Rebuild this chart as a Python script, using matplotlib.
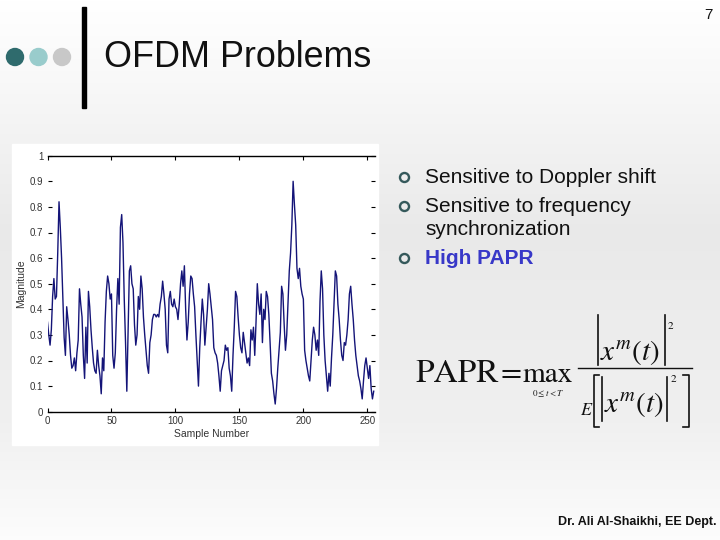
import matplotlib
matplotlib.use('Agg')
import matplotlib.pyplot as plt
import numpy as np
from matplotlib.patches import Circle, Rectangle

plt.rcParams['font.family'] = ['Liberation Sans', 'DejaVu Sans']

# magnitude of 256 OFDM samples
magnitude = [
    0.35, 0.30, 0.26, 0.32, 0.45, 0.52, 0.44, 0.45, 0.62, 0.82,
    0.72, 0.60, 0.45, 0.29, 0.22, 0.41, 0.36, 0.30, 0.22, 0.17,
    0.18, 0.21, 0.16, 0.23, 0.28, 0.48, 0.42, 0.37, 0.22, 0.13,
    0.33, 0.19, 0.47, 0.41, 0.32, 0.25, 0.19, 0.16, 0.15, 0.24,
    0.18, 0.14, 0.07, 0.21, 0.16, 0.35, 0.47, 0.53, 0.50, 0.44,
    0.46, 0.22, 0.17, 0.23, 0.40, 0.52, 0.42, 0.72, 0.77, 0.66,
    0.44, 0.27, 0.08, 0.32, 0.55, 0.57, 0.50, 0.48, 0.34, 0.26,
    0.30, 0.45, 0.40, 0.53, 0.48, 0.37, 0.30, 0.24, 0.18, 0.15,
    0.27, 0.30, 0.36, 0.38, 0.38, 0.37, 0.38, 0.37, 0.42, 0.45,
    0.51, 0.46, 0.40, 0.26, 0.23, 0.44, 0.47, 0.42, 0.41, 0.44,
    0.41, 0.40, 0.36, 0.42, 0.50, 0.55, 0.49, 0.57, 0.40, 0.28,
    0.35, 0.46, 0.53, 0.52, 0.46, 0.41, 0.30, 0.20, 0.10, 0.25,
    0.35, 0.44, 0.38, 0.26, 0.33, 0.40, 0.50, 0.46, 0.41, 0.36,
    0.25, 0.23, 0.22, 0.19, 0.14, 0.08, 0.16, 0.18, 0.20, 0.26,
    0.24, 0.25, 0.17, 0.14, 0.08, 0.22, 0.33, 0.47, 0.45, 0.37,
    0.30, 0.25, 0.23, 0.31, 0.27, 0.23, 0.19, 0.21, 0.18, 0.32,
    0.28, 0.33, 0.22, 0.35, 0.50, 0.42, 0.38, 0.46, 0.27, 0.40,
    0.36, 0.47, 0.45, 0.38, 0.27, 0.15, 0.12, 0.07, 0.03, 0.09,
    0.17, 0.24, 0.31, 0.49, 0.46, 0.34, 0.24, 0.30, 0.42, 0.55,
    0.62, 0.73, 0.90, 0.81, 0.73, 0.56, 0.52, 0.56, 0.49, 0.46,
    0.44, 0.24, 0.20, 0.17, 0.14, 0.12, 0.20, 0.28, 0.33, 0.30,
    0.24, 0.28, 0.22, 0.43, 0.55, 0.48, 0.30, 0.20, 0.14, 0.08,
    0.15, 0.10, 0.21, 0.30, 0.43, 0.55, 0.53, 0.42, 0.36, 0.28,
    0.22, 0.20, 0.27, 0.26, 0.30, 0.36, 0.46, 0.49, 0.42, 0.36,
    0.28, 0.22, 0.18, 0.14, 0.12, 0.09, 0.05, 0.12, 0.18, 0.21,
    0.17, 0.13, 0.18, 0.09, 0.05, 0.08,
]
samples = np.arange(len(magnitude))
x_ticks = [0, 50, 100, 150, 200, 250]
y_ticks = [0, 0.1, 0.2, 0.3, 0.4, 0.5, 0.6, 0.7, 0.8, 0.9, 1]
y_tick_labels = ['0', '0.1', '0.2', '0.3', '0.4', '0.5', '0.6', '0.7', '0.8', '0.9', '1']

bullet_lines = [['Sensitive to Doppler shift'],
                ['Sensitive to frequency', 'synchronization'],
                ['High PAPR']]

W, H = 720, 540
fig = plt.figure(figsize=(7.2, 5.4), dpi=100)

# slide background, pixel coordinates
bg = fig.add_axes([0, 0, 1, 1])
bg.set_xlim(0, W)
bg.set_ylim(H, 0)
bg.axis('off')
rows = np.interp(np.arange(H), [0, 90, 230, 420, 540], [1.0, 0.97, 0.915, 0.94, 0.99])
grad = np.dstack([rows[:, None].repeat(2, axis=1)] * 3)
bg.imshow(grad, extent=[0, W, H, 0], aspect='auto', zorder=0)

# header
for cx, col in zip([15, 38.5, 62], ['#2f6b6d', '#99cccc', '#c8c8c8']):
    bg.add_patch(Circle((cx, 57), 8.5, color=col, zorder=2))
bg.add_patch(Rectangle((82, 7), 4, 101, color='black', zorder=2))
bg.text(104, 67, 'OFDM Problems', fontsize=25.8, va='baseline', ha='left', color='#111111', zorder=3)
bg.text(713, 15, '7', fontsize=11, ha='right', va='center', color='#111111')

# bullets
bullet_y = [177, 206, 258]
line_y = [[183], [212, 235], [264]]
for i, (by, lys, lines) in enumerate(zip(bullet_y, line_y, bullet_lines)):
    bg.plot(403.5, by, marker='o', ms=6.5, mfc='none', mec='#35595b', mew=1.7, zorder=3)
    for ly, txt in zip(lys, lines):
        if i == 2:
            bg.text(425, ly, txt, fontsize=15, fontweight='bold', color='#3838c8', va='baseline', zorder=3)
        else:
            bg.text(425, ly, txt, fontsize=15, color='#111111', va='baseline', zorder=3)

# PAPR formula, built from pieces
ink = '#111111'
mkw = dict(math_fontfamily='stix', color=ink, va='baseline', zorder=3)
rkw = dict(family='STIXGeneral', color=ink, va='baseline', ha='left', zorder=3)
bg.text(415, 382, 'PAPR', fontsize=24, **rkw)
bg.text(501, 382, '=', fontsize=22, **rkw)
bg.text(523, 382, 'max', fontsize=21, **rkw)
bg.text(548, 396, r'$0\leq t<T$', fontsize=6.5, ha='center', **mkw)
# numerator
bg.text(630, 360, r'$x^{m}(t)$', fontsize=21, ha='center', **mkw)
bg.plot([598, 598], [315, 365], color=ink, lw=1.2)
bg.plot([665, 665], [315, 365], color=ink, lw=1.2)
bg.text(668, 326, '2', fontsize=8, family='STIXGeneral', color=ink, ha='left', va='center')
# fraction bar
bg.plot([578, 692], [368, 368], color=ink, lw=1.0)
# denominator
bg.text(587, 415, r'$E$', fontsize=13, ha='center', **mkw)
bg.plot([599, 594, 594, 599], [375, 375, 427, 427], color=ink, lw=1.2)
bg.plot([683, 689, 689, 683], [375, 375, 427, 427], color=ink, lw=1.2)
bg.plot([602, 602], [377, 421], color=ink, lw=1.2)
bg.plot([667, 667], [377, 421], color=ink, lw=1.2)
bg.text(634, 412, r'$x^{m}(t)$', fontsize=21, ha='center', **mkw)
bg.text(671, 379, '2', fontsize=8, family='STIXGeneral', color=ink, ha='left', va='center')

bg.text(716, 522, 'Dr. Ali Al-Shaikhi, EE Dept.', fontsize=9, fontweight='bold',
        ha='right', va='center', color='#111111')

# white box of the pasted figure
bg.add_patch(Rectangle((12, 144), 366, 301, color='white', zorder=1))

# the magnitude plot
x0, x1, y0, y1 = 47.5, 375, 155.7, 411.7
ax = fig.add_axes([x0 / W, 1 - y1 / H, (x1 - x0) / W, (y1 - y0) / H])
ax.set_facecolor('white')
ax.plot(samples, magnitude, color='#141478', lw=1.0)
ax.set_xlim(0, 256)
ax.set_ylim(0, 1)
ax.set_xticks(x_ticks)
ax.set_yticks(y_ticks)
ax.set_yticklabels(y_tick_labels)
ax.tick_params(direction='in', length=3, width=0.8, labelsize=7, labelcolor='#333333',
               top=True, right=True, pad=3)
ax.spines['left'].set_visible(False)
ax.spines['right'].set_visible(False)
ax.spines['top'].set_linewidth(1.0)
ax.spines['bottom'].set_linewidth(1.0)
ax.set_xlabel('Sample Number', fontsize=7.5, color='#333333', labelpad=2)
ax.set_ylabel('Magnitude', fontsize=7.5, color='#333333', labelpad=3)

fig.savefig('out.png', dpi=100)
